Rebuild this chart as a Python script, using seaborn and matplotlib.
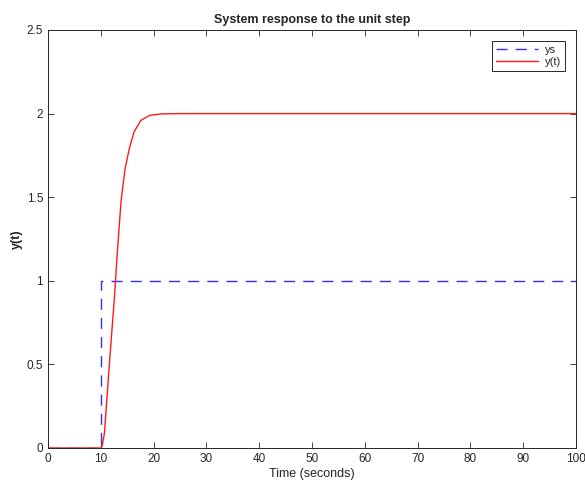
import matplotlib
matplotlib.use("Agg")
import matplotlib.pyplot as plt
import seaborn as sns
import pandas as pd

# Reference step input
step_time = [0, 10, 10, 100]
step_value = [0, 0, 1, 1]

# Simulated output y(t)
resp_time = [0, 10.0, 10.25, 10.7, 11.6, 12.55, 13.2, 13.85, 14.6, 15.4,
             16.3, 17.6, 19.3, 21.5, 25.0, 100]
resp_value = [0, 0, 0.01, 0.09, 0.49, 0.885, 1.2, 1.48, 1.67, 1.79,
              1.89, 1.96, 1.99, 1.998, 2.0, 2.0]

sns.set_style("ticks")
plt.rcParams["font.family"] = ["Liberation Sans", "DejaVu Sans"]

fig = plt.figure(figsize=(5.85, 4.8), dpi=100)
ax = fig.add_axes([0.082, 0.0667, 0.9026, 0.8708])

step_df = pd.DataFrame({"t": step_time, "y": step_value})
resp_df = pd.DataFrame({"t": resp_time, "y": resp_value})

sns.lineplot(data=step_df, x="t", y="y", ax=ax, color="#3030ff", lw=1.0,
             sort=False, estimator=None, label="ys")
ax.lines[-1].set_dashes((8, 5.8))
sns.lineplot(data=resp_df, x="t", y="y", ax=ax, color="#ff1a1a", lw=1.0,
             sort=False, estimator=None, label="y(t)")

ax.set_xlim(0, 100)
ax.set_ylim(0, 2.5)
ax.set_xticks(range(0, 101, 10))
ax.set_yticks([0, 0.5, 1, 1.5, 2, 2.5])
ax.set_yticklabels(["0", "0.5", "1", "1.5", "2", "2.5"])
ax.tick_params(direction="in", top=True, right=True, labelsize=8.5,
               length=4, width=0.6, colors="#262626")
for s in ax.spines.values():
    s.set_linewidth(0.7)
    s.set_color("#262626")
    s.set_visible(True)

ax.set_title("System response to the unit step", fontsize=9, fontweight="bold", pad=5)
ax.set_xlabel("Time (seconds)", fontsize=9, labelpad=2.5)
ax.set_ylabel("y(t)", fontsize=9, fontweight="bold", labelpad=3)

leg = ax.legend(loc="upper right", fontsize=8, frameon=True, fancybox=False,
                handlelength=3.8, borderpad=0.35, labelspacing=0.15,
                handletextpad=0.6, borderaxespad=1.0)
leg.get_frame().set_edgecolor("#262626")
leg.get_frame().set_linewidth(0.7)
leg.get_frame().set_alpha(1)

fig.savefig("out.png", dpi=100)
